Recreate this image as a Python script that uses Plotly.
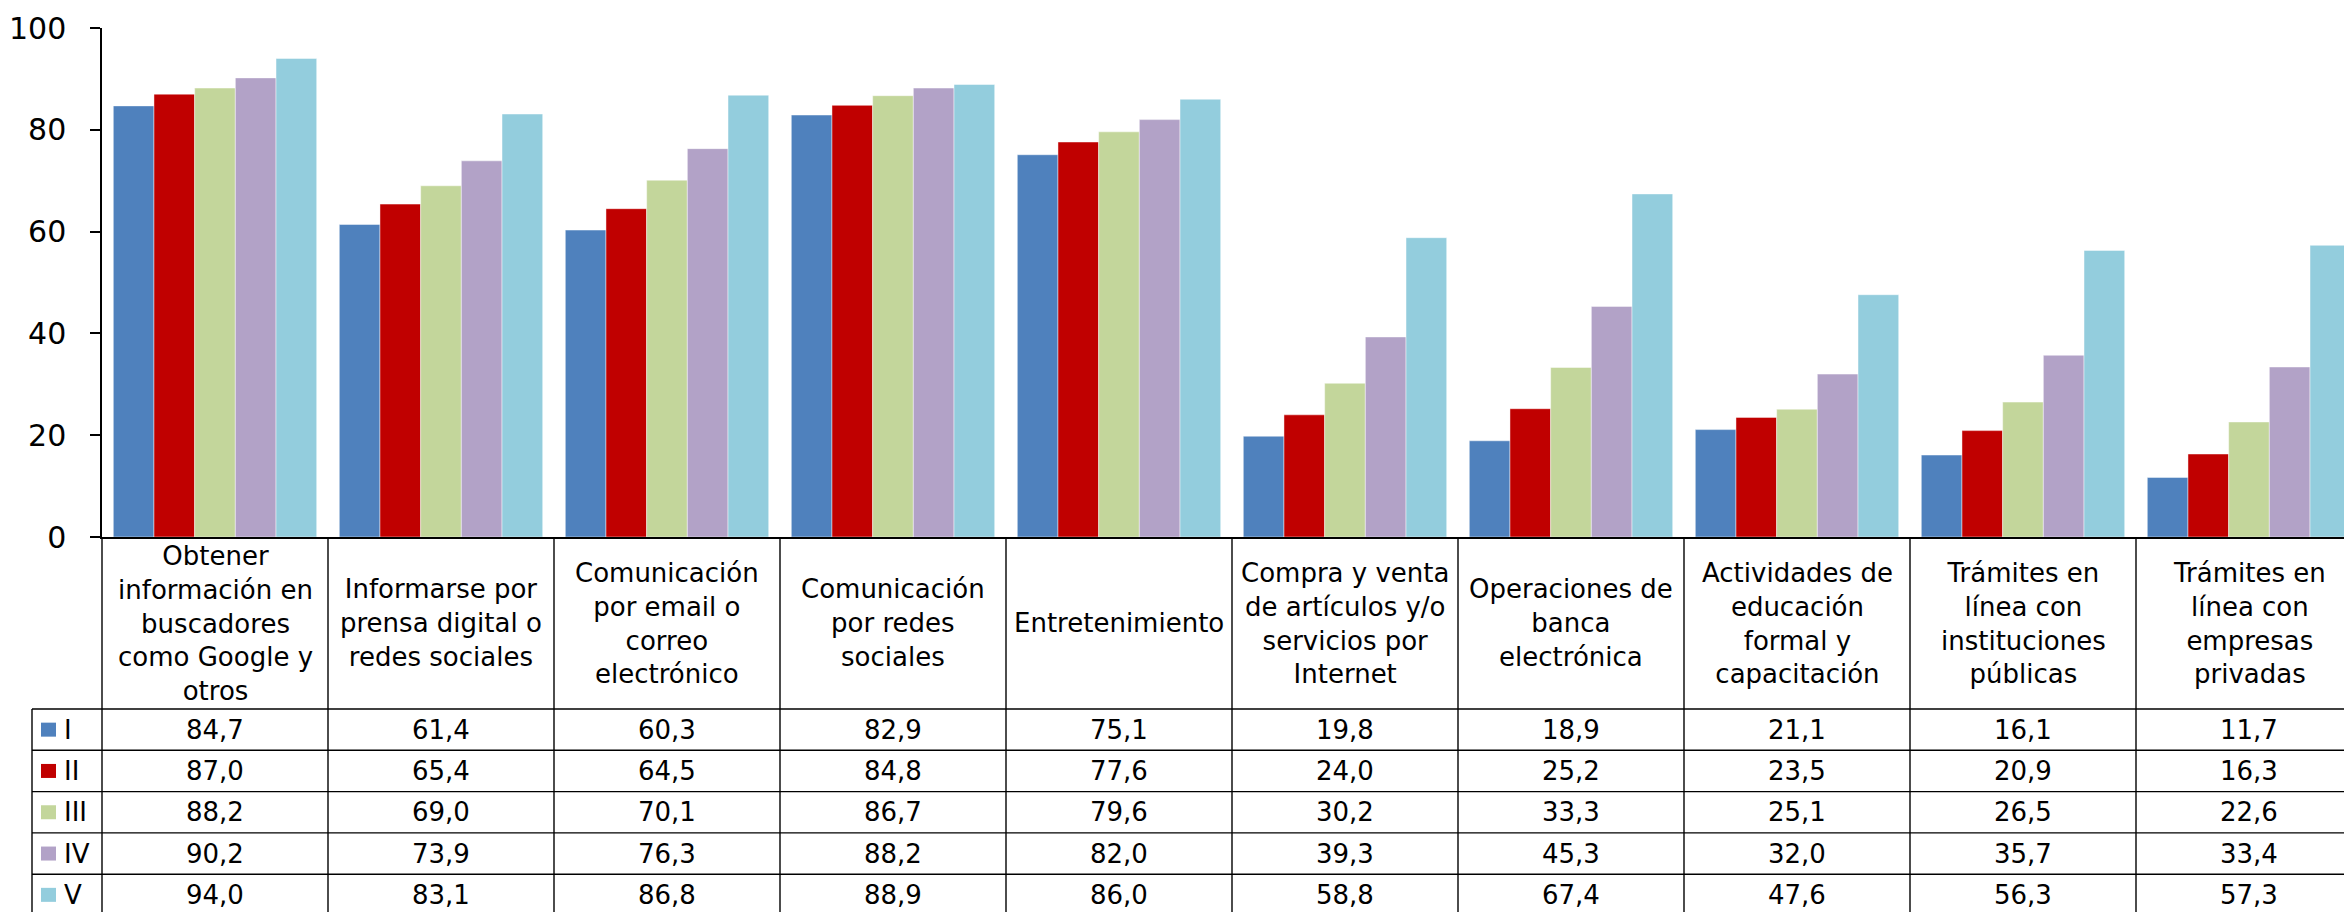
import plotly.graph_objects as go

# ---------------- data ----------------
categories = [
    "Obtener<br>información en<br>buscadores<br>como Google y<br>otros",
    "Informarse por<br>prensa digital o<br>redes sociales",
    "Comunicación<br>por email o<br>correo<br>electrónico",
    "Comunicación<br>por redes<br>sociales",
    "Entretenimiento",
    "Compra y venta<br>de artículos y/o<br>servicios por<br>Internet",
    "Operaciones de<br>banca<br>electrónica",
    "Actividades de<br>educación<br>formal y<br>capacitación",
    "Trámites en<br>línea con<br>instituciones<br>públicas",
    "Trámites en<br>línea con<br>empresas<br>privadas",
]
series_names = ["I", "II", "III", "IV", "V"]
values_I = [84.7, 61.4, 60.3, 82.9, 75.1, 19.8, 18.9, 21.1, 16.1, 11.7]
values_II = [87.0, 65.4, 64.5, 84.8, 77.6, 24.0, 25.2, 23.5, 20.9, 16.3]
values_III = [88.2, 69.0, 70.1, 86.7, 79.6, 30.2, 33.3, 25.1, 26.5, 22.6]
values_IV = [90.2, 73.9, 76.3, 88.2, 82.0, 39.3, 45.3, 32.0, 35.7, 33.4]
values_V = [94.0, 83.1, 86.8, 88.9, 86.0, 58.8, 67.4, 47.6, 56.3, 57.3]
y_tick_values = [0, 20, 40, 60, 80, 100]

series_values = [values_I, values_II, values_III, values_IV, values_V]
colors = ["#4F81BD", "#C00000", "#C3D69B", "#B2A2C7", "#93CDDD"]

# ---------------- layout geometry (pixels) ----------------
W, H = 2344, 912
L, T = 102, 28          # plot area left / top
BOTTOM = 537            # zero line
PLOT_W = W - L
PLOT_H = BOTTOM - T
HEADER_BOTTOM = 709
ROW_H = 41.3
TABLE_LEFT = 32
FONT = "DejaVu Sans, Verdana, sans-serif"


def px_x(px):
    return (px - L) / PLOT_W


def px_y(py):
    return (BOTTOM - py) / PLOT_H


fig = go.Figure()
for name, vals, col in zip(series_names, series_values, colors):
    fig.add_trace(go.Bar(
        x=categories, y=vals, name=name,
        marker=dict(color=col, line=dict(width=1, color="rgba(255,255,255,0.45)")),
        showlegend=False,
    ))

shapes = []
annotations = []
n = len(categories)
line_style = dict(color="black", width=1.4)

# vertical divider between columns (data coords on x)
for i in range(n):
    shapes.append(dict(type="line", xref="x", yref="paper",
                       x0=i + 0.5, x1=i + 0.5, y0=px_y(BOTTOM), y1=px_y(H + 5),
                       line=line_style))
# y-axis line continued through the table
shapes.append(dict(type="line", xref="paper", yref="paper",
                   x0=0, x1=0, y0=px_y(BOTTOM), y1=px_y(H + 5), line=line_style))
# left border of legend column
shapes.append(dict(type="line", xref="paper", yref="paper",
                   x0=px_x(TABLE_LEFT), x1=px_x(TABLE_LEFT),
                   y0=px_y(HEADER_BOTTOM), y1=px_y(H + 5), line=line_style))
# horizontal row lines
for r in range(len(series_names) + 1):
    yy = HEADER_BOTTOM + r * ROW_H
    shapes.append(dict(type="line", xref="paper", yref="paper",
                       x0=px_x(TABLE_LEFT), x1=1.01, y0=px_y(yy), y1=px_y(yy),
                       line=line_style))

# header texts
for cat in categories:
    annotations.append(dict(xref="x", yref="paper", x=cat,
                            y=px_y((BOTTOM + HEADER_BOTTOM) / 2),
                            text=cat, showarrow=False, xanchor="center", yanchor="middle",
                            align="center", font=dict(family=FONT, size=26, color="black")))

# data rows
for r, (name, vals, col) in enumerate(zip(series_names, series_values, colors)):
    yc = HEADER_BOTTOM + (r + 0.5) * ROW_H
    # legend key square
    shapes.append(dict(type="rect", xref="paper", yref="paper",
                       x0=px_x(41), x1=px_x(56), y0=px_y(yc - 7), y1=px_y(yc + 7),
                       fillcolor=col, line=dict(width=0)))
    annotations.append(dict(xref="paper", yref="paper", x=px_x(62), y=px_y(yc),
                            text=name, showarrow=False, xanchor="left", yanchor="middle",
                            font=dict(family=FONT, size=26, color="black")))
    for cat, v in zip(categories, vals):
        annotations.append(dict(xref="x", yref="paper", x=cat, y=px_y(yc),
                                text=f"{v:.1f}".replace(".", ","), showarrow=False,
                                xanchor="center", yanchor="middle",
                                font=dict(family=FONT, size=26, color="black")))

fig.update_layout(
    width=W, height=H,
    margin=dict(l=L, r=0, t=T, b=H - BOTTOM, pad=0),
    paper_bgcolor="white", plot_bgcolor="white",
    barmode="group", bargap=0.1, bargroupgap=0,
    font=dict(family=FONT, color="black"),
    shapes=shapes, annotations=annotations,
    xaxis=dict(type="category", range=[-0.5, -0.5 + PLOT_W / 226.0],
               showticklabels=False, ticks="", showgrid=False, zeroline=False,
               showline=True, linecolor="black", linewidth=1.5),
    yaxis=dict(range=[0, 100], tickvals=y_tick_values, ticks="outside", ticklen=10,
               tickwidth=1.5, tickcolor="black", showgrid=False, zeroline=False,
               showline=True, linecolor="black", linewidth=1.5,
               tickfont=dict(family=FONT, size=30, color="black"),
               ticklabelstandoff=18),
)

fig.write_html(
    "out.html",
    config={"displayModeBar": False},
    post_script="document.body.style.margin='0';document.body.style.overflow='hidden';",
)
